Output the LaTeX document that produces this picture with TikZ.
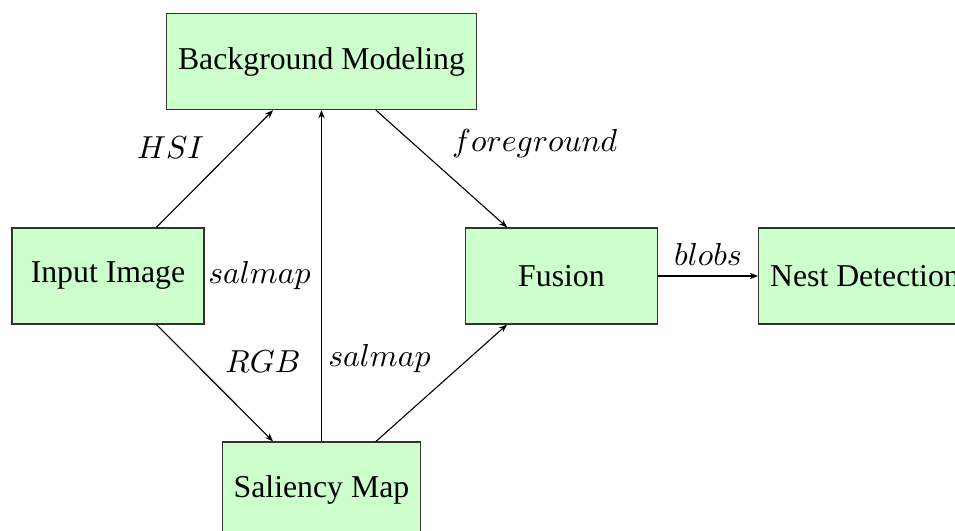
\documentclass[tikz,border=0pt]{standalone}
\usepackage{fontspec}
\setmainfont{Liberation Serif}
\usetikzlibrary{arrows.meta}
\definecolor{boxfill}{RGB}{204,255,204}
\begin{document}
\begin{tikzpicture}[x=0.3146pt,y=-0.3146pt,
  block/.style={draw=black!80,fill=boxfill,line width=0.4pt,inner sep=3.6pt,
    minimum width=60.4pt,minimum height=30.2pt,font=\fontsize{10}{12}\selectfont},
  flow/.style={-{Stealth[length=2.6pt,width=2pt]},line width=0.35pt},
  lbl/.style={inner sep=3.2pt,font=\fontsize{10}{12}\selectfont}]
  \useasboundingbox (0,0) rectangle (955,531);
  \node[block] (bg)   at (321.5,61.5) {Background Modeling};
  \node[block] (in)   at (108,276)  {Input Image};
  \node[block] (fus)  at (561.5,276) {Fusion};
  \node[block,anchor=west] (nest) at (758,276) {Nest Detection};
  \node[block] (sal)  at (321.5,490)  {Saliency Map};

  \draw[flow] (in)  -- node[lbl,above left]  {$HSI$} (bg);
  \draw[flow] (bg)  -- node[lbl,above right] {$foreground$} (fus);
  \draw[flow] (in)  -- node[lbl,above right] {$RGB$} (sal);
  \draw[flow] (sal) -- node[lbl,left]        {$salmap$} (bg);
  \draw[flow] (sal) -- node[lbl,above left]  {$salmap$} (fus);
  \draw[flow] (fus) -- node[lbl,above]       {$blobs$} (nest);
\end{tikzpicture}
\end{document}
